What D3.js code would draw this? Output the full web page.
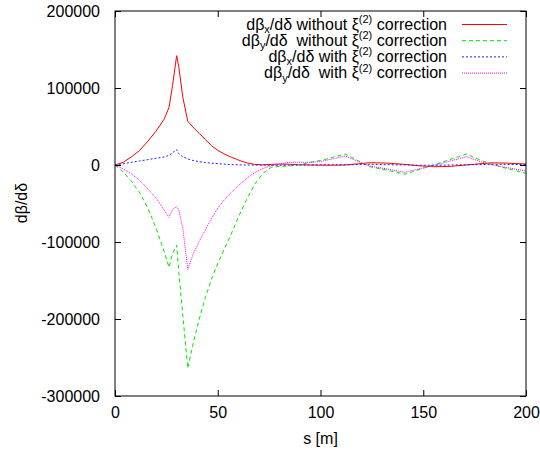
<!DOCTYPE html>
<html>
<head>
<meta charset="utf-8">
<script src="https://cdn.jsdelivr.net/npm/d3@7"></script>
<style>
  html, body { margin: 0; padding: 0; background: #fff; }
  svg text { font-family: "Liberation Sans", Arial, Helvetica, sans-serif; fill: #000; white-space: pre; }
</style>
</head>
<body>
<svg id="chart" width="540" height="453"></svg>
<script>
// Position along the line (m)
const s = [0, 4, 8, 12, 16, 20, 24, 26.3, 28, 30, 31, 33, 35.4, 38, 41, 44, 47, 50, 53, 56, 60, 64, 68, 72, 76, 80, 85, 90, 95, 100, 106, 112, 118, 124, 132, 141, 148, 155, 163, 171, 177, 183, 190, 200];

// dβx/dδ without ξ(2) correction
const dbxNoCorr = [0, 3500, 10500, 19000, 31000, 44000, 60000, 75000, 103000, 142000, 128000, 88000, 57000, 49000, 41000, 33000, 25000, 19000, 14500, 10800, 6500, 2800, 800, 200, 800, 1200, 1000, 300, 0, -200, -300, 0, 1500, 3000, 2500, 800, -1000, -2200, -1800, 0, 1500, 2800, 2500, 1300];

// dβy/dδ without ξ(2) correction
const dbyNoCorr = [0, -9000, -21000, -36000, -56000, -82000, -113000, -133000, -115000, -104000, -138000, -195000, -264000, -232000, -200000, -172000, -148000, -128000, -110000, -93000, -68000, -45000, -25000, -11000, -3000, -1800, -1300, 500, 3500, 5800, 10000, 14300, 6000, -2200, -6500, -12000, -6000, 0, 7000, 14300, 7000, 1300, -4000, -10800];

// dβx/dδ with ξ(2) correction
const dbxCorr = [0, 1700, 3500, 5200, 7000, 8700, 10500, 12500, 16000, 20000, 15000, 10500, 8000, 5800, 4300, 3200, 2400, 1800, 1200, 600, 200, 0, 0, -200, -300, -300, -200, 0, 0, 200, 300, 300, 500, 900, 500, 0, -300, -300, 0, 300, 500, 900, 800, 500];

// dβy/dδ with ξ(2) correction
const dbyCorr = [0, -5000, -11500, -20000, -31000, -43000, -59000, -68000, -58000, -54000, -58000, -82000, -135500, -116000, -99000, -84000, -69000, -56000, -46000, -37000, -27000, -17500, -10000, -4500, -1000, 1300, 3500, 3600, 3500, 4500, 8000, 11700, 5000, -1500, -5000, -9500, -5000, -500, 5000, 10800, 5000, 500, -3000, -7800];

const xTicks = [0, 50, 100, 150, 200];
const yTicks = [-300000, -200000, -100000, 0, 100000, 200000];

const series = [
  { values: dbxNoCorr, color: "#ff0000", dash: null,  label: [["dβ"], ["x", "sub"], ["/dδ without ξ"], ["(2)", "sup"], [" correction"]] },
  { values: dbyNoCorr, color: "#00e600", dash: "4,3", label: [["dβ"], ["y", "sub"], ["/dδ  without ξ"], ["(2)", "sup"], [" correction"]] },
  { values: dbxCorr,   color: "#2020ff", dash: "2,2", label: [["dβ"], ["x", "sub"], ["/dδ with ξ"], ["(2)", "sup"], [" correction"]] },
  { values: dbyCorr,   color: "#ff00ff", dash: "1,1", label: [["dβ"], ["y", "sub"], ["/dδ  with ξ"], ["(2)", "sup"], [" correction"]] }
];

const svg = d3.select("#chart");
const plot = { left: 115, right: 526, top: 11, bottom: 396 };

const x = d3.scaleLinear().domain([0, 200]).range([plot.left, plot.right]);
const y = d3.scaleLinear().domain([-300000, 200000]).range([plot.bottom, plot.top]);

const fontSize = 16;
const plain = d => String(d);   // ASCII hyphen for negatives

// Curves
const line = d3.line().x((d, i) => x(s[i])).y(d => y(d));
series.forEach(sr => {
  svg.append("path")
    .attr("d", line(sr.values))
    .attr("fill", "none")
    .attr("stroke", sr.color)
    .attr("stroke-width", 1)
    .attr("stroke-dasharray", sr.dash);
});

// Frame with mirrored inward ticks
const tickLen = 6;
svg.append("rect")
  .attr("x", plot.left).attr("y", plot.top)
  .attr("width", plot.right - plot.left).attr("height", plot.bottom - plot.top)
  .attr("fill", "none").attr("stroke", "#000").attr("stroke-width", 1);

svg.append("g").attr("transform", `translate(0,${plot.bottom})`)
  .call(d3.axisBottom(x).tickValues(xTicks).tickSize(-tickLen).tickPadding(11).tickFormat(plain))
  .call(g => g.select(".domain").remove())
  .call(g => g.selectAll("text").attr("font-size", fontSize));
svg.append("g").attr("transform", `translate(0,${plot.top})`)
  .call(d3.axisTop(x).tickValues(xTicks).tickSize(-tickLen).tickFormat(""))
  .call(g => g.select(".domain").remove());
svg.append("g").attr("transform", `translate(${plot.left},0)`)
  .call(d3.axisLeft(y).tickValues(yTicks).tickSize(-tickLen).tickPadding(15).tickFormat(plain))
  .call(g => g.select(".domain").remove())
  .call(g => g.selectAll("text").attr("font-size", fontSize));
svg.append("g").attr("transform", `translate(${plot.right},0)`)
  .call(d3.axisRight(y).tickValues(yTicks).tickSize(-tickLen).tickFormat(""))
  .call(g => g.select(".domain").remove());
svg.selectAll(".tick text").attr("font-family", null);

// Axis titles
svg.append("text")
  .attr("x", (plot.left + plot.right) / 2).attr("y", 444)
  .attr("text-anchor", "middle").attr("font-size", fontSize)
  .text("s [m]");
svg.append("text")
  .attr("transform", "translate(27,203) rotate(-90)")
  .attr("text-anchor", "middle").attr("font-size", fontSize)
  .text("dβ/dδ");

// Legend
const legX = 447, lineX0 = 462, lineX1 = 507;
series.forEach((sr, i) => {
  const ly = 24.5 + i * 16.2;
  const t = svg.append("text")
    .attr("x", legX).attr("y", ly + 5)
    .attr("text-anchor", "end").attr("font-size", fontSize);
  let shift = 0;
  sr.label.forEach(([str, kind]) => {
    const sp = t.append("tspan").text(str);
    const target = kind === "sub" ? 3.5 : kind === "sup" ? -6.5 : 0;
    if (target !== shift) sp.attr("dy", target - shift);
    if (kind) sp.attr("font-size", 11);
    shift = target;
  });
  svg.append("line")
    .attr("x1", lineX0).attr("x2", lineX1).attr("y1", ly).attr("y2", ly)
    .attr("stroke", sr.color).attr("stroke-width", 1)
    .attr("stroke-dasharray", sr.dash);
});
</script>
</body>
</html>
